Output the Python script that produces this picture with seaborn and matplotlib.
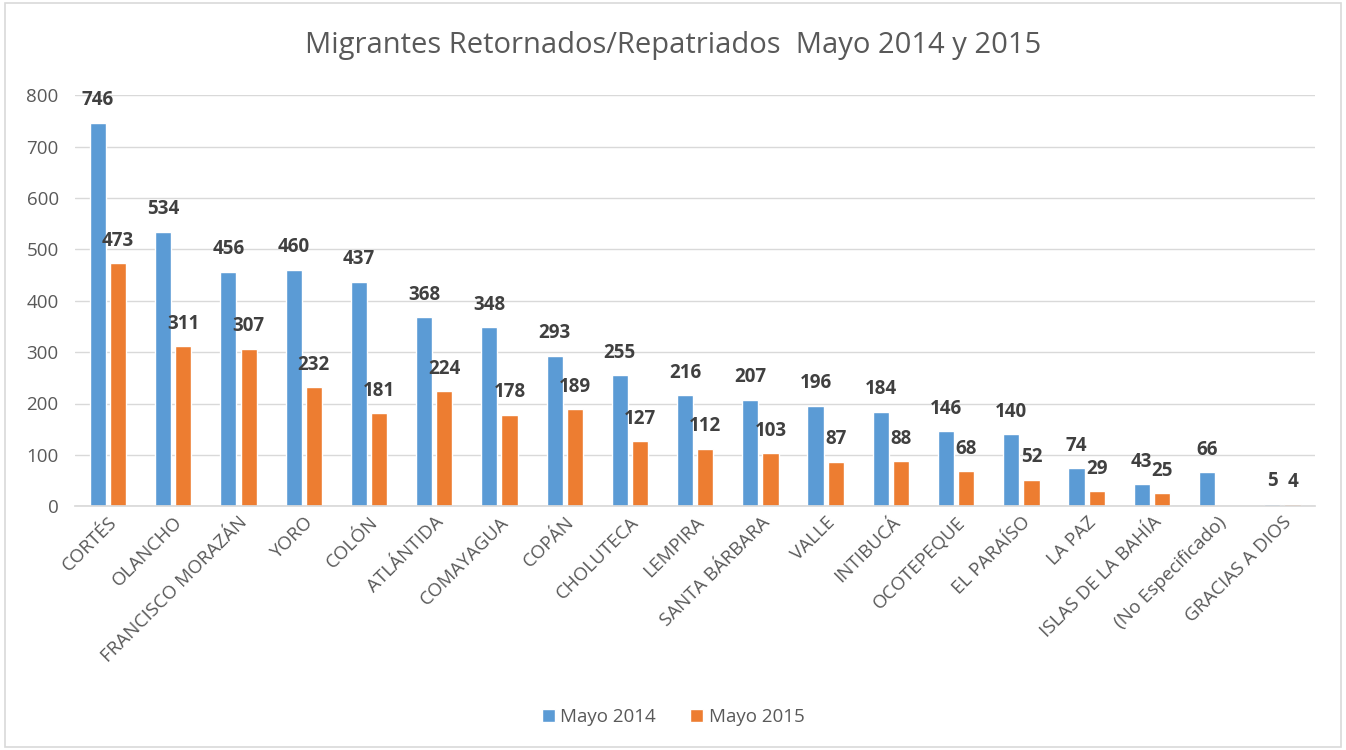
import numpy as np
import pandas as pd
import matplotlib
matplotlib.use("Agg")
import matplotlib.pyplot as plt
import seaborn as sns
from matplotlib.patches import Rectangle

# Data
departamentos = [
    "CORTÉS", "OLANCHO", "FRANCISCO MORAZÁN", "YORO", "COLÓN", "ATLÁNTIDA",
    "COMAYAGUA", "COPÁN", "CHOLUTECA", "LEMPIRA", "SANTA BÁRBARA", "VALLE",
    "INTIBUCÁ", "OCOTEPEQUE", "EL PARAÍSO", "LA PAZ", "ISLAS DE LA BAHÍA",
    "(No Especificado)", "GRACIAS A DIOS",
]
mayo_2014 = [746, 534, 456, 460, 437, 368, 348, 293, 255, 216, 207, 196,
             184, 146, 140, 74, 43, 66, 5]
mayo_2015 = [473, 311, 307, 232, 181, 224, 178, 189, 127, 112, 103, 87,
             88, 68, 52, 29, 25, np.nan, 4]
series = ["Mayo 2014", "Mayo 2015"]
colors = ["#5B9BD5", "#ED7D31"]

df = pd.DataFrame({
    "departamento": departamentos * 2,
    "serie": [series[0]] * len(departamentos) + [series[1]] * len(departamentos),
    "valor": mayo_2014 + mayo_2015,
})

sns.set_theme(style="white")
plt.rcParams["font.family"] = ["Open Sans", "DejaVu Sans"]

fig = plt.figure(figsize=(13.46, 7.5), dpi=100)
ax = fig.add_axes([0.056, 0.325, 0.921, 0.548])

sns.barplot(
    data=df, x="departamento", y="valor", hue="serie",
    palette=colors, width=0.62, gap=0.2, ax=ax, legend=True,
    order=departamentos, hue_order=series, errorbar=None, saturation=1,
)

for container in ax.containers:
    labels = ["" if np.isnan(v) else f"{int(v)}" for v in container.datavalues]
    ax.bar_label(container, labels=labels, padding=9, fontsize=13.5,
                 fontweight="bold", color="#404040")

ax.set_ylim(0, 800)
ax.set_xlim(-0.5, len(departamentos) - 0.5)
ax.set_yticks(range(0, 801, 100))
ax.yaxis.grid(True, color="#D9D9D9", linewidth=1)
ax.set_axisbelow(True)
for side in ["top", "right", "left"]:
    ax.spines[side].set_visible(False)
ax.spines["bottom"].set_color("#D9D9D9")
ax.tick_params(axis="y", labelsize=13.5, colors="#595959", length=0, pad=12)
ax.tick_params(axis="x", labelsize=13.5, colors="#595959", length=0, pad=5)
plt.setp(ax.get_xticklabels(), rotation=45, ha="right", rotation_mode="anchor")
ax.set_xlabel("")
ax.set_ylabel("")

fig.text(0.5, 0.94, "Migrantes Retornados/Repatriados  Mayo 2014 y 2015",
         ha="center", va="center", fontsize=21, color="#595959")

handles, lbls = ax.get_legend_handles_labels()
ax.legend_.remove()
fig.legend(handles, lbls, loc="center", bbox_to_anchor=(0.5, 0.044), ncol=2,
           frameon=False, fontsize=13.5, handlelength=0.7, handleheight=0.7,
           handletextpad=0.3, columnspacing=1.8, labelcolor="#595959")

fig.patches.append(Rectangle((0.004, 0.004), 0.992, 0.992, transform=fig.transFigure,
                             fill=False, edgecolor="#D9D9D9", linewidth=1.2))

fig.savefig("out.png", dpi=100)
